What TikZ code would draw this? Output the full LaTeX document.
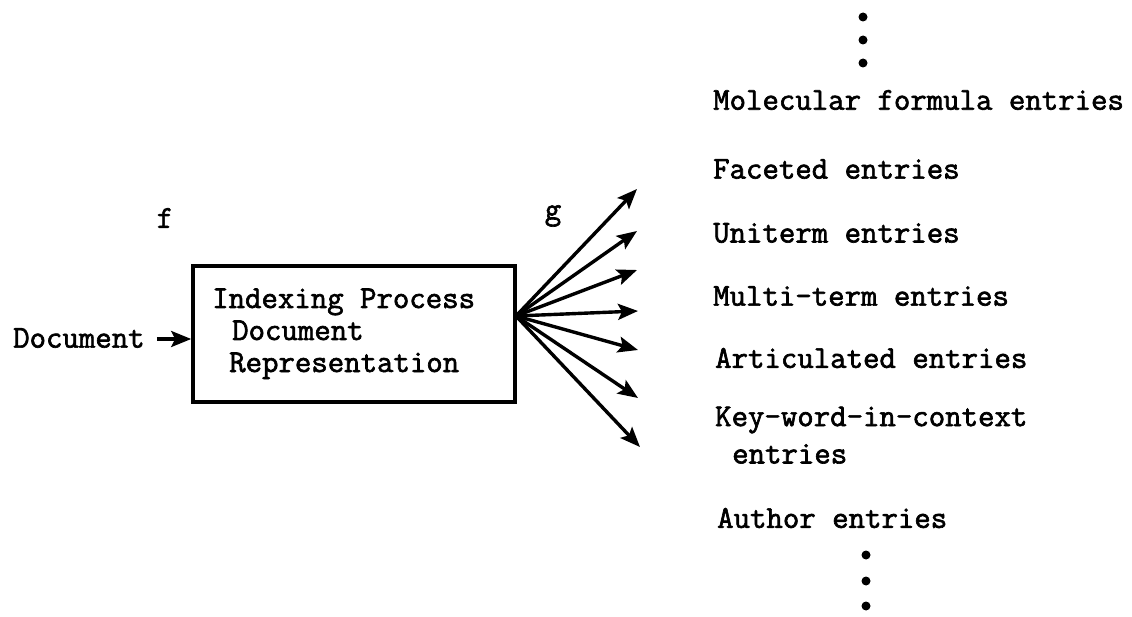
\documentclass[tikz,border=0pt]{standalone}
\usepackage{fontspec}
\newfontfamily\typefont[FakeBold=2]{Latin Modern Mono}
\usetikzlibrary{arrows.meta}
\tikzset{
  tw/.style={font=\typefont\fontsize{31.9}{36}\selectfont, inner sep=0pt, text=black},
  entry/.style={tw, anchor=west},
  boxline/.style={entry, text height=19pt, text depth=5pt},
  procbox/.style={draw, line width=3.6pt, minimum width=322pt, minimum height=136pt, inner sep=0pt},
  fanarrow/.style={line width=3.4pt, -{Stealth[length=20pt,width=16pt,inset=4pt]}},
  dotmark/.style={circle, fill=black, inner sep=0pt, minimum size=9pt}
}
\begin{document}
\begin{tikzpicture}[x=1pt,y=-1pt]
\useasboundingbox (0,0) rectangle (1132,617);

% input label and the process box
\node[entry] (doc) at (13,338) {Document};
\node[procbox] (proc) at (354,334) {};
\node[boxline] (l1) at (212,301) {Indexing Process};
\node[boxline] (l2) at (232,333) {Document};
\node[boxline] (l3) at (229,365) {Representation};
\draw[fanarrow] (doc.east) ++(12,1) coordinate (docout) -- (proc.west |- docout);

% function labels
\node[tw] (f) at (165,218) {f};
\node[tw] (g) at (553,216) {g};

% fan of output arrows
\coordinate (hub) at (516,316);
\coordinate (t1) at (637,189);
\coordinate (t2) at (637,231);
\coordinate (t3) at (637,270);
\coordinate (t4) at (638,311);
\coordinate (t5) at (638,350);
\coordinate (t6) at (638,398);
\coordinate (t7) at (640,447);
\foreach \t in {t1,t2,t3,t4,t5,t6,t7}
  \draw[fanarrow] (hub) -- (\t);

% list of index entry types
\node[dotmark] (u1) at (863,17) {};
\node[dotmark] (u2) at (863,40) {};
\node[dotmark] (u3) at (863,63) {};
\node[entry] (e1) at (713,100) {Molecular formula entries};
\node[entry] (e2) at (713,169) {Faceted entries};
\node[entry] (e3) at (713,233) {Uniterm entries};
\node[entry] (e4) at (713,296) {Multi-term entries};
\node[entry] (e5) at (715,358) {Articulated entries};
\node[entry] (e6) at (715,420) {Key-word-in-context};
\node[entry] (e6b) at (732,454) {entries};
\node[entry] (e7) at (717,518) {Author entries};
\node[dotmark] (d1) at (866,555) {};
\node[dotmark] (d2) at (866,581) {};
\node[dotmark] (d3) at (866,606) {};
\end{tikzpicture}
\end{document}
